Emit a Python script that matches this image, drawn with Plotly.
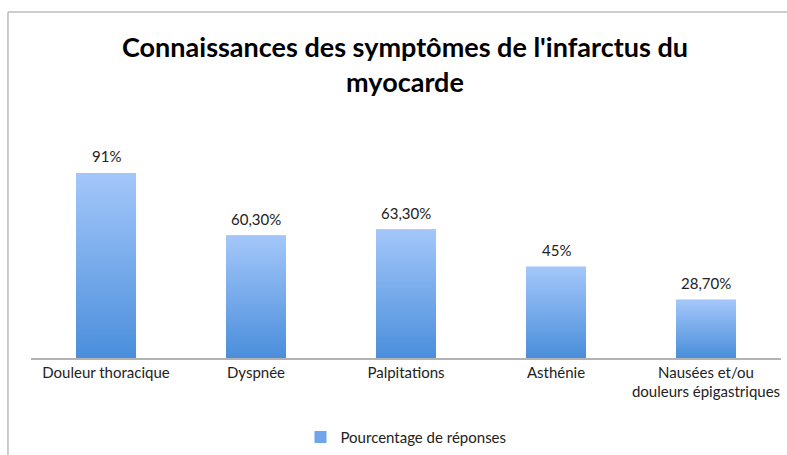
import plotly.graph_objects as go

categories = ["Douleur thoracique", "Dyspnée", "Palpitations", "Asthénie",
              "Nausées et/ou<br>douleurs épigastriques"]
values = [91, 60.3, 63.3, 45, 28.7]
labels = ["91%", "60,30%", "63,30%", "45%", "28,70%"]
series_name = "Pourcentage de réponses"

FONT = "Lato"
TOP = "#a4c7fa"
BOTTOM = "#4a8edb"
BAR_W = 0.4

fig = go.Figure()
fig.add_trace(go.Bar(
    x=list(range(len(categories))), y=values, name=series_name,
    width=BAR_W, marker=dict(color="#6fa6ea", line=dict(width=0)),
    hoverinfo="skip", showlegend=True,
))

# gradient overlay per bar, derived from the data values
for i, v in enumerate(values):
    fig.add_trace(go.Scatter(
        x=[i - BAR_W / 2, i + BAR_W / 2, i + BAR_W / 2, i - BAR_W / 2, i - BAR_W / 2],
        y=[0, 0, v, v, 0], mode="lines", fill="toself",
        line=dict(width=0, color="rgba(0,0,0,0)"),
        fillgradient=dict(type="vertical", colorscale=[[0, BOTTOM], [1, TOP]],
                          start=0, stop=v),
        showlegend=False, hoverinfo="skip",
    ))

for i, (v, t) in enumerate(zip(values, labels)):
    fig.add_annotation(x=i, y=v, text=t, showarrow=False, yanchor="bottom",
                       yshift=6, font=dict(family=FONT, size=15, color="#222"))

fig.update_layout(
    width=787, height=455,
    margin=dict(l=31, r=6, t=155, b=97, autoexpand=False),
    paper_bgcolor="white", plot_bgcolor="white",
    title=dict(text="<b>Connaissances des symptômes de l'infarctus du<br>myocarde</b>",
               x=0.5146, xanchor="center", y=0.875, yanchor="middle",
               font=dict(family=FONT, size=27, color="black")),
    xaxis=dict(range=[-0.5, len(categories) - 0.5], tickmode="array",
               tickvals=list(range(len(categories))), ticktext=categories,
               showline=True, linecolor="#b3b3b3", linewidth=1.5, ticks="",
               showgrid=False, zeroline=False, automargin=False,
               tickfont=dict(family=FONT, size=15, color="#222")),
    yaxis=dict(range=[0, 100], visible=False, showgrid=False, automargin=False),
    legend=dict(orientation="h", x=0.5, xanchor="center", y=-0.39, yanchor="middle",
                font=dict(family=FONT, size=15, color="#222")),
    showlegend=True,
)

# chart border (top and left edges visible in the crop)
fig.add_shape(type="line", xref="paper", yref="paper", x0=-0.0307, x1=1.02,
              y0=1.704, y1=1.704, line=dict(color="#bdbdbd", width=1.5))
fig.add_shape(type="line", xref="paper", yref="paper", x0=-0.0307, x1=-0.0307,
              y0=1.704, y1=-0.6, line=dict(color="#bdbdbd", width=1.5))

fig.write_html("out.html", config={"displayModeBar": False},
               post_script="document.body.style.margin='0px';document.body.style.overflow='hidden';")
